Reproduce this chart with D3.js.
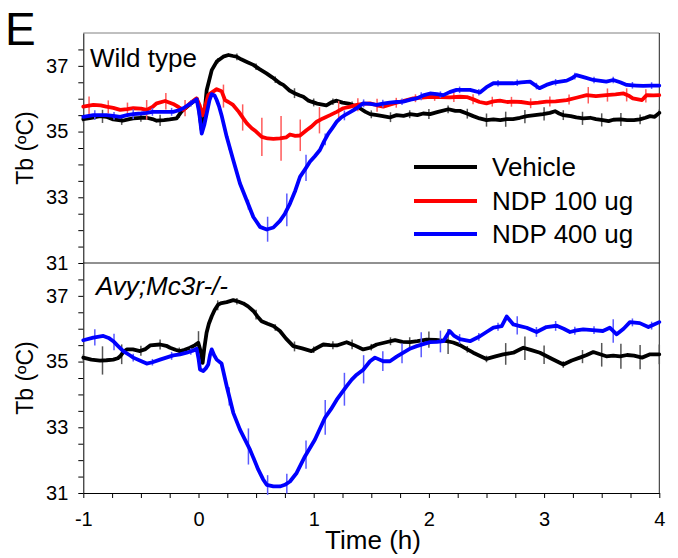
<!DOCTYPE html>
<html>
<head>
<meta charset="utf-8">
<script src="https://cdn.jsdelivr.net/npm/d3@7"></script>
<style>
  body { margin: 0; background: #fff; }
  svg text { font-family: Arial, "Liberation Sans", sans-serif; fill: #000; }
</style>
</head>
<body>
<div id="chart"></div>
<script>
// time (h) vs body temperature (deg C)
var wtVehicle = [[-1,35.38],[-0.93,35.42],[-0.855,35.47],[-0.8,35.45],[-0.74,35.37],[-0.66,35.33],[-0.6,35.38],[-0.566,35.4],[-0.5,35.42],[-0.45,35.42],[-0.4,35.38],[-0.363,35.33],[-0.3,35.35],[-0.25,35.37],[-0.19,35.4],[-0.15,35.6],[-0.1,35.75],[-0.05,35.9],[-0.016,36.0],[0,35.8],[0.028,35.05],[0.045,35.3],[0.071,36.26],[0.115,36.87],[0.158,37.13],[0.215,37.28],[0.26,37.33],[0.3,37.3],[0.33,37.28],[0.37,37.2],[0.42,37.12],[0.476,37.03],[0.53,36.9],[0.59,36.77],[0.64,36.65],[0.707,36.47],[0.736,36.42],[0.79,36.25],[0.838,36.16],[0.88,36.1],[0.91,36.06],[0.95,35.95],[0.98,35.91],[1.03,35.85],[1.11,35.8],[1.16,35.9],[1.2,35.94],[1.25,35.88],[1.315,35.84],[1.36,35.78],[1.4,35.71],[1.45,35.6],[1.49,35.53],[1.55,35.5],[1.6,35.47],[1.66,35.43],[1.72,35.5],[1.78,35.48],[1.836,35.53],[1.9,35.5],[1.95,35.55],[2.01,35.53],[2.08,35.6],[2.17,35.68],[2.23,35.63],[2.27,35.63],[2.33,35.55],[2.385,35.47],[2.44,35.4],[2.5,35.35],[2.56,35.37],[2.62,35.35],[2.675,35.38],[2.73,35.38],[2.79,35.42],[2.85,35.47],[2.92,35.5],[2.99,35.53],[3.05,35.57],[3.095,35.62],[3.13,35.55],[3.167,35.5],[3.23,35.47],[3.28,35.43],[3.34,35.4],[3.4,35.42],[3.45,35.38],[3.51,35.35],[3.56,35.32],[3.6,35.36],[3.66,35.37],[3.72,35.35],[3.78,35.35],[3.83,35.37],[3.88,35.42],[3.92,35.47],[3.96,35.45],[4,35.57]];

var wtNdp100 = [[-1,35.76],[-0.913,35.81],[-0.85,35.8],[-0.8,35.76],[-0.74,35.72],[-0.68,35.66],[-0.62,35.68],[-0.566,35.71],[-0.5,35.7],[-0.45,35.66],[-0.4,35.75],[-0.363,35.86],[-0.29,35.93],[-0.22,35.84],[-0.17,35.74],[-0.132,35.66],[-0.074,35.86],[-0.016,36.01],[0.01,35.8],[0.036,35.5],[0.06,35.8],[0.085,36.11],[0.12,36.2],[0.158,36.29],[0.2,36.23],[0.23,35.96],[0.26,35.9],[0.3,35.81],[0.35,35.6],[0.389,35.4],[0.42,35.25],[0.462,35.1],[0.5,35.0],[0.549,34.84],[0.6,34.79],[0.65,34.78],[0.707,34.79],[0.76,34.82],[0.794,34.91],[0.84,34.87],[0.881,34.88],[0.94,35.05],[0.98,35.15],[1.026,35.3],[1.08,35.4],[1.142,35.5],[1.2,35.6],[1.257,35.71],[1.31,35.75],[1.373,35.81],[1.43,35.84],[1.489,35.86],[1.55,35.8],[1.604,35.76],[1.66,35.82],[1.72,35.88],[1.8,35.95],[1.865,36.01],[1.94,36.03],[2.01,36.06],[2.1,36.05],[2.18,36.04],[2.27,36.06],[2.33,36.05],[2.385,35.98],[2.44,35.9],[2.5,35.86],[2.56,35.92],[2.617,35.94],[2.68,35.9],[2.733,35.91],[2.8,35.9],[2.878,35.86],[2.95,35.88],[3.02,35.91],[3.1,35.92],[3.196,35.96],[3.28,36.03],[3.37,36.11],[3.45,36.08],[3.54,36.11],[3.62,36.13],[3.69,36.16],[3.74,36.08],[3.77,36.01],[3.85,35.96],[3.89,36.11],[3.95,36.1],[4,36.11]];

var wtNdp400 = [[-1,35.45],[-0.913,35.5],[-0.8,35.5],[-0.74,35.48],[-0.68,35.45],[-0.62,35.5],[-0.566,35.53],[-0.5,35.55],[-0.45,35.57],[-0.4,35.6],[-0.334,35.6],[-0.28,35.6],[-0.22,35.6],[-0.17,35.65],[-0.132,35.71],[-0.07,35.85],[-0.016,35.98],[0.005,35.6],[0.028,34.94],[0.05,35.2],[0.071,35.55],[0.095,35.95],[0.115,36.14],[0.14,36.1],[0.158,35.96],[0.18,35.75],[0.2,35.5],[0.245,34.84],[0.302,34.13],[0.36,33.42],[0.418,32.91],[0.476,32.4],[0.534,32.1],[0.592,32.02],[0.65,32.08],[0.707,32.28],[0.75,32.5],[0.794,32.81],[0.84,33.2],[0.881,33.62],[0.925,33.85],[0.967,34.08],[1.01,34.25],[1.054,34.44],[1.09,34.7],[1.127,34.94],[1.16,35.1],[1.2,35.3],[1.235,35.42],[1.27,35.5],[1.32,35.6],[1.373,35.71],[1.43,35.86],[1.49,35.84],[1.547,35.81],[1.6,35.85],[1.66,35.88],[1.72,35.9],[1.778,35.91],[1.84,35.97],[1.894,36.01],[1.95,36.1],[2.01,36.16],[2.07,36.14],[2.125,36.11],[2.18,36.2],[2.24,36.27],[2.3,36.27],[2.357,36.27],[2.443,36.19],[2.5,36.35],[2.56,36.47],[2.65,36.47],[2.733,36.47],[2.8,36.5],[2.878,36.52],[2.96,36.32],[3.02,36.42],[3.08,36.49],[3.196,36.55],[3.24,36.62],[3.28,36.72],[3.35,36.65],[3.427,36.57],[3.54,36.52],[3.6,36.57],[3.66,36.5],[3.717,36.42],[3.8,36.4],[3.86,36.39],[3.93,36.4],[4,36.4]];

var mutVehicle = [[-1,35.12],[-0.93,35.06],[-0.855,35.03],[-0.8,35.04],[-0.74,35.06],[-0.7,35.1],[-0.68,35.16],[-0.65,35.3],[-0.623,35.37],[-0.57,35.37],[-0.508,35.32],[-0.46,35.38],[-0.42,35.49],[-0.334,35.52],[-0.28,35.48],[-0.247,35.42],[-0.2,35.36],[-0.16,35.32],[-0.12,35.36],[-0.074,35.42],[-0.03,35.5],[-0.002,35.57],[0.02,35.3],[0.036,34.96],[0.05,35.4],[0.07,35.88],[0.09,36.15],[0.115,36.38],[0.14,36.57],[0.172,36.74],[0.2,36.78],[0.245,36.81],[0.302,36.87],[0.35,36.82],[0.389,36.77],[0.43,36.68],[0.476,36.54],[0.51,36.38],[0.548,36.23],[0.6,36.15],[0.65,36.08],[0.707,35.93],[0.76,35.7],[0.823,35.47],[0.9,35.4],[0.98,35.32],[1.03,35.42],[1.083,35.52],[1.14,35.5],[1.2,35.49],[1.286,35.59],[1.35,35.5],[1.43,35.37],[1.49,35.42],[1.547,35.52],[1.62,35.58],[1.706,35.65],[1.77,35.6],[1.836,35.59],[1.9,35.62],[1.98,35.67],[2.06,35.66],[2.155,35.62],[2.21,35.58],[2.27,35.5],[2.33,35.38],[2.385,35.27],[2.44,35.18],[2.5,35.08],[2.57,35.15],[2.645,35.22],[2.733,35.27],[2.78,35.35],[2.82,35.42],[2.89,35.35],[2.964,35.27],[3.07,35.08],[3.167,34.91],[3.24,35.03],[3.31,35.12],[3.37,35.2],[3.427,35.29],[3.48,35.23],[3.54,35.16],[3.6,35.18],[3.66,35.16],[3.72,35.2],[3.78,35.18],[3.85,35.12],[3.92,35.22],[4,35.22]];

var mutNdp400 = [[-1,35.65],[-0.913,35.73],[-0.826,35.78],[-0.78,35.72],[-0.74,35.62],[-0.7,35.48],[-0.653,35.32],[-0.6,35.2],[-0.566,35.12],[-0.5,35.02],[-0.45,34.94],[-0.4,34.98],[-0.334,35.06],[-0.28,35.12],[-0.219,35.19],[-0.16,35.22],[-0.103,35.27],[-0.05,35.33],[-0.016,35.39],[0,35.1],[0.013,34.76],[0.042,34.71],[0.065,34.8],[0.085,34.91],[0.1,35.2],[0.115,35.37],[0.135,35.2],[0.158,35.06],[0.2,34.94],[0.245,34.25],[0.302,33.44],[0.36,32.93],[0.4,32.65],[0.447,32.32],[0.519,31.71],[0.56,31.42],[0.592,31.25],[0.65,31.2],[0.707,31.2],[0.75,31.25],[0.794,31.35],[0.852,31.61],[0.925,32.12],[1.01,32.62],[1.098,33.29],[1.15,33.55],[1.2,33.84],[1.286,34.25],[1.33,34.45],[1.373,34.6],[1.43,34.75],[1.489,35.01],[1.532,35.12],[1.604,35.01],[1.662,35.01],[1.72,35.15],[1.778,35.27],[1.84,35.4],[1.894,35.47],[1.95,35.53],[2.01,35.59],[2.07,35.6],[2.125,35.62],[2.18,35.93],[2.22,35.78],[2.27,35.68],[2.357,35.62],[2.443,35.77],[2.5,35.9],[2.56,36.03],[2.632,36.08],[2.675,36.37],[2.733,36.13],[2.79,36.08],[2.849,36.03],[2.935,35.9],[3.02,36.05],[3.11,36.09],[3.17,36.0],[3.225,35.9],[3.28,35.95],[3.34,35.98],[3.42,35.96],[3.51,35.93],[3.57,36.03],[3.63,35.83],[3.69,36.0],[3.745,36.2],[3.83,36.17],[3.905,36.05],[3.95,36.12],[4,36.2]];

// SEM, one value every 10 min, starting at -1 h + offset
var wtVehicleSem = [0.1,0.2,0.13,0.12,0.17,0.1,0.1,0.08,0.1,0.1,0.1,0.15,0.12,0.1,0.1,0.12,0.15,0.12,0.15,0.12,0.15,0.2,0.23,0.2,0.2,0.15,0.2,0.2,0.2,0.15,0.1];
var wtNdp100Sem = [0.28,0.2,0.2,0.3,0.25,0.25,0.1,0.35,0.4,0.58,0.68,0.48,0.4,0.3,0.2,0.2,0.15,0.12,0.12,0.15,0.15,0.15,0.15,0.15,0.15,0.15,0.25,0.2,0.2,0.2];
var wtNdp400Sem = [0.15,0.12,0.15,0.12,0.12,0.1,0.1,0.12,0.15,0.38,0.5,0.4,0.18,0.15,0.12,0.12,0.1,0.12,0.1,0.1,0.1,0.1,0.1,0.1,0.1,0.1,0.1,0.1,0.1,0.1];
var mutVehicleSem = [0.1,0.43,0.3,0.15,0.15,0.1,0.38,0.15,0.1,0.15,0.1,0.15,0.1,0.12,0.15,0.1,0.12,0.15,0.25,0.38,0.1,0.1,0.33,0.36,0.28,0.1,0.2,0.36,0.38,0.37,0.3];
var mutNdp400Sem = [0.25,0.25,0.12,0.1,0.12,0.1,0.1,0.28,0.55,0.3,0.3,0.43,0.53,0.5,0.43,0.3,0.3,0.38,0.33,0.15,0.12,0.12,0.28,0.15,0.15,0.12,0.12,0.36,0.12,0.12];

var legendLabels = ["Vehicle", "NDP 100 ug", "NDP 400 ug"];
var xTicks = d3.range(-1, 4.001, 0.25);
var yTicks = d3.range(31, 37.501, 0.5);

var W = 678, H = 558;
var svg = d3.select("#chart").append("svg")
  .attr("width", W).attr("height", H);

var x = d3.scaleLinear().domain([-1, 4]).range([83.3, 659.3]);
var yTop = d3.scaleLinear().domain([31, 38]).range([263, 33]);
var yBot = d3.scaleLinear().domain([31, 38]).range([493, 263]);

var fmtY = function(d) { return (d % 2 === 1) ? d : ""; };
var fmtX = function(d) { return Number.isInteger(d) ? d : ""; };

function styleAxis(g) {
  g.selectAll("path").attr("stroke", "#000").attr("stroke-width", 1);
  g.selectAll("line").attr("stroke", "#000").attr("stroke-width", 1);
  g.selectAll("text").style("font-size", "20px").attr("fill", "#000");
}

// frame lines
svg.append("line").attr("x1", x(-1)).attr("x2", x(4)).attr("y1", yTop(38)).attr("y2", yTop(38))
  .attr("stroke", "#808080").attr("stroke-width", 1);
svg.append("line").attr("x1", x(-1)).attr("x2", x(4)).attr("y1", yTop(31)).attr("y2", yTop(31))
  .attr("stroke", "#222").attr("stroke-width", 1);
svg.append("line").attr("x1", x(4)).attr("x2", x(4)).attr("y1", yTop(38)).attr("y2", yBot(31))
  .attr("stroke", "#222").attr("stroke-width", 1);

[yTop, yBot].forEach(function(y) {
  svg.append("g")
    .attr("transform", "translate(" + x(-1) + ",0)")
    .call(d3.axisLeft(y).tickValues(yTicks).tickFormat(fmtY).tickSize(5).tickSizeOuter(0).tickPadding(10))
    .call(styleAxis)
    .selectAll("text").attr("font-family", null);
});

svg.append("g")
  .attr("transform", "translate(0," + yBot(31) + ")")
  .call(d3.axisBottom(x).tickValues(xTicks).tickFormat(fmtX).tickSize(5).tickSizeOuter(0).tickPadding(14))
  .call(styleAxis);

svg.selectAll(".domain").attr("fill", "none");
svg.selectAll(".tick text").attr("font-family", null);

var bisect = d3.bisector(function(d) { return d[0]; }).left;
function valueAt(data, t) {
  var i = bisect(data, t);
  if (i <= 0) return data[0][1];
  if (i >= data.length) return data[data.length - 1][1];
  var a = data[i - 1], b = data[i];
  return a[1] + (b[1] - a[1]) * (t - a[0]) / (b[0] - a[0]);
}

function drawSeries(y, data, sem, offset, color, barColor) {
  var bars = sem.map(function(s, k) { return {t: -1 + offset + k / 6, s: s}; })
    .filter(function(d) { return d.t <= 4.001; });
  svg.append("g").selectAll("line")
    .data(bars)
    .enter().append("line")
    .attr("x1", function(d) { return x(d.t); })
    .attr("x2", function(d) { return x(d.t); })
    .attr("y1", function(d) { return y(valueAt(data, d.t) - d.s); })
    .attr("y2", function(d) { return y(valueAt(data, d.t) + d.s); })
    .attr("stroke", barColor)
    .attr("stroke-width", 1.5);

  var line = d3.line()
    .x(function(d) { return x(d[0]); })
    .y(function(d) { return y(d[1]); });
  svg.append("path")
    .datum(data)
    .attr("d", line)
    .attr("fill", "none")
    .attr("stroke", color)
    .attr("stroke-width", 3.8)
    .attr("stroke-linejoin", "round")
    .attr("stroke-linecap", "round");
}

drawSeries(yTop, wtVehicle, wtVehicleSem, 0, "#000", "#555");
drawSeries(yTop, wtNdp100, wtNdp100Sem, 0.05, "#ff0000", "#ff5a5a");
drawSeries(yTop, wtNdp400, wtNdp400Sem, 0.1, "#0000ff", "#5a5aff");
drawSeries(yBot, mutVehicle, mutVehicleSem, 0, "#000", "#555");
drawSeries(yBot, mutNdp400, mutNdp400Sem, 0.1, "#0000ff", "#5a5aff");

// legend
var legendColors = ["#000", "#ff0000", "#0000ff"];
var legendY = [167, 201, 234];
legendLabels.forEach(function(lab, i) {
  svg.append("line")
    .attr("x1", 414).attr("x2", 477)
    .attr("y1", legendY[i]).attr("y2", legendY[i])
    .attr("stroke", legendColors[i]).attr("stroke-width", 3.8);
  svg.append("text")
    .attr("x", 492).attr("y", legendY[i]).attr("dy", "0.35em")
    .style("font-size", "26px")
    .text(lab);
});

// labels
svg.append("text").attr("x", 5).attr("y", 45).style("font-size", "46px").text("E");
svg.append("text").attr("x", 90).attr("y", 67).style("font-size", "26px").text("Wild type");
svg.append("text").attr("x", 96).attr("y", 295).style("font-size", "26px")
  .style("font-style", "italic").text("Avy;Mc3r-/-");

[yTop, yBot].forEach(function(y) {
  svg.append("text")
    .attr("transform", "translate(33," + ((y(31) + y(38)) / 2) + ") rotate(-90)")
    .attr("text-anchor", "middle")
    .style("font-size", "23px")
    .text("Tb (\u00baC)");
});

svg.append("text")
  .attr("x", 373).attr("y", 549)
  .attr("text-anchor", "middle")
  .style("font-size", "26px")
  .text("Time (h)");
</script>
</body>
</html>
